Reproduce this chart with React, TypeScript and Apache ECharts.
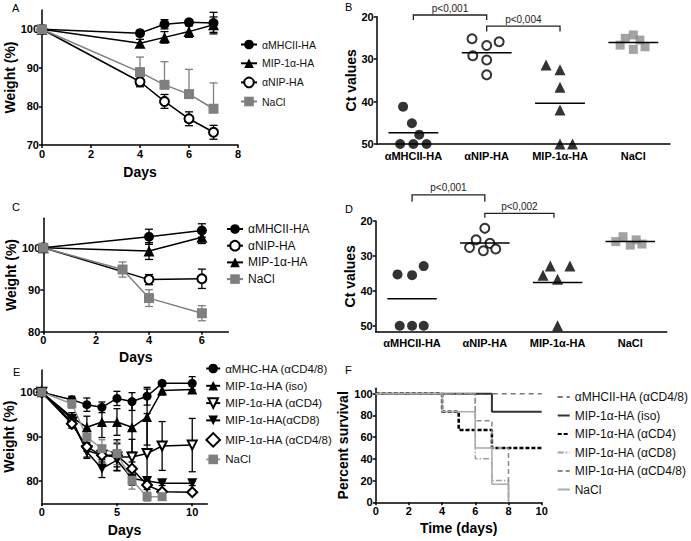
import React, { useEffect, useRef } from 'react';
import * as echarts from 'echarts';

const FONT = '"Liberation Sans", Arial, Helvetica, sans-serif';
const BLACK = '#000';
const GRAY = '#7f7f7f';

// ---------- Panel A ----------
const daysA = [0, 4, 5, 6, 7];
const mhcA = [100, 99.0, 101.3, 101.8, 101.6];
const mhcAErr = [0, 0.6, 1.2, 0.7, 2.8];
const mipA = [100, 96.4, 97.9, 99.4, 101.2];
const mipAErr = [0, 1.0, 1.5, 1.5, 2.0];
const nipA = [100, 86.4, 81.3, 76.8, 73.3];
const nipAErr = [0, 1.3, 1.8, 1.8, 1.8];
const naclA = [100, 88.9, 85.6, 83.2, 79.4];
const naclAErrUp = [0, 3.9, 6.0, 6.4, 6.7];

// ---------- Panel B ----------
const ctCats = ['αMHCII-HA', 'αNIP-HA', 'MIP-1α-HA', 'NaCl'];
const ctB_mhc = [41.2, 45.1, 47.8, 50, 50, 50];
const ctB_mhcJit = [-0.14, -0.02, 0.08, -0.18, 0, 0.18];
const ctB_nip = [25.2, 26.8, 25.9, 29.2, 30.2, 33.7];
const ctB_nipJit = [-0.2, 0, 0.17, -0.19, 0, 0];
const ctB_mip = [31.4, 32.5, 36.6, 42.0, 50, 50];
const ctB_mipJit = [-0.19, 0, 0, 0, 0, 0.17];
const ctB_nacl = [24.3, 25.1, 25.5, 26.7, 27.7, 27.1];
const ctB_naclJit = [0, -0.11, 0.09, -0.18, 0, 0.16];
const bracketsB = [[0, 1, 19.6, 20.8], [1, 2, 22.2, 23.5]];
const bracketsBText = ['p<0,001', 'p<0,004'];

// ---------- Panel C ----------
const daysC = [0, 4, 6];
const mhcC = [100, 102.6, 104.1];
const mhcCErr = [0, 1.8, 1.6];
const nipC = [100, 92.4, 92.6];
const nipCErr = [0, 1.2, 2.3];
const mipC = [100, 99.2, 102.5];
const mipCErr = [0, 2.0, 1.5];
const daysCNacl = [0, 3, 4, 6];
const naclC = [100, 94.8, 88.0, 84.4];
const naclCErr = [0, 1.8, 2.0, 1.8];

// ---------- Panel D ----------
const ctD_mhc = [35.3, 35.5, 32.9, 50, 50, 50];
const ctD_mhcJit = [-0.2, 0, 0.16, -0.17, 0, 0.16];
const ctD_nip = [22.1, 25.4, 26.4, 27.6, 28.5, 28.0];
const ctD_nipJit = [0, -0.12, 0.07, -0.21, -0.02, 0.15];
const ctD_mip = [32.9, 32.9, 35.5, 36.7, 50];
const ctD_mipJit = [-0.1, 0.17, -0.2, 0, 0];
const ctD_nacl = [25.9, 24.5, 26.9, 25.4, 26.6];
const ctD_naclJit = [-0.2, -0.1, 0, 0.08, 0.16];
const bracketsD = [[0, 1, 12.5, 14.5], [1, 1.95, 17.8, 19.1]];
const bracketsDText = ['p<0,001', 'p<0,002'];

// ---------- Panel E ----------
const daysE = [0, 2, 3, 4, 5, 6, 7, 8, 10];
const mhcE = [100, 98.3, 97.2, 96.6, 98.6, 97.9, 99.1, 102.0, 102.0];
const mhcEErr = [0, 0.8, 1.5, 1.2, 1.6, 2.0, 2.0, 0.5, 1.5];
const isoE = [100, 94.4, 92.1, 93.3, 93.3, 92.1, 94.4, 100.4, 100.6];
const isoEErr = [0, 1.0, 2.5, 3.5, 3.0, 5.6, 6.3, 1.0, 0.8];
const cd4E = [100, 93.3, 86.9, 85.8, 85.4, 85.4, 86.2, 87.9, 88.1];
const cd4EErr = [0, 1.0, 1.5, 2.0, 3.0, 4.0, 9.0, 5.5, 6.0];
const cd8E = [100, 94.0, 86.6, 82.8, 84.7, 80.6, 80.0, 79.5, 79.5];
const cd8EErr = [0, 1.0, 1.5, 2.0, 1.5, 1.5, 1.0, 0.5, 0.5];
const cd48E = [100, 92.9, 87.7, 85.8, 85.8, 82.8, 79.1, 77.6, 77.5];
const cd48EErr = [0, 1.0, 1.0, 1.5, 3.5, 1.5, 1.0, 0.5, 0.5];
const daysENacl = [0, 2, 3, 4, 5, 6, 7, 8];
const naclE = [100, 97.4, 89.9, 87.3, 86.2, 80.2, 76.5, 76.5];
const naclEErr = [0, 1.0, 2.0, 2.0, 2.5, 2.0, 1.0, 0.5];

// ---------- Panel F (survival) ----------
const survMhcT = [0, 10];
const survMhc = [100, 100];
const survIsoT = [0, 7, 10];
const survIso = [100, 83.3, 83.3];
const survCd4T = [0, 4, 5, 7, 10];
const survCd4 = [100, 83.3, 66.7, 50, 50];
const survCd8T = [0, 6, 7, 8];
const survCd8 = [100, 40, 20, 0];
const survCd48T = [0, 6, 7, 8];
const survCd48 = [100, 75, 50, 0];
const survNaclT = [0, 4, 6, 7, 8];
const survNacl = [100, 83.3, 50, 16.7, 0];

const strip = (s: string) => s.replace(/\u200b/g, '');
const pts = (xs: number[], ys: number[]) => xs.map((x, i) => [x, ys[i]]);
const errPts = (xs: number[], ys: number[], up: number[], down?: number[]) => {
  const out: number[][] = [];
  xs.forEach((x, i) => {
    const u = up[i];
    const d = down ? down[i] : up[i];
    if (u > 0 || d > 0) out.push([x, ys[i], u, d]);
  });
  return out;
};
const jit = (center: number, vals: number[], off: number[]) => vals.map((v, i) => [center + off[i], v]);
const mean = (a: number[]) => a.reduce((s, v) => s + v, 0) / a.length;

function lineS(name: string, idx: number, data: number[][], symbol: string, color: string, size = 10, rotate = 0, lineColor = color) {
  return {
    type: 'line', name, xAxisIndex: idx, yAxisIndex: idx, data,
    symbol, symbolSize: size, symbolRotate: rotate, showAllSymbol: true,
    itemStyle: { color },
    lineStyle: { color: lineColor, width: 1.5 },
    z: 4,
  };
}

function errS(idx: number, data: number[][], color: string, cap = 4) {
  return {
    type: 'custom', xAxisIndex: idx, yAxisIndex: idx, data, z: 3, silent: true, clip: false,
    encode: { x: 0, y: 1 },
    renderItem: (params: any, api: any) => {
      const x = api.value(0), y = api.value(1), u = api.value(2), d = api.value(3);
      const p = api.coord([x, y]);
      const t = api.coord([x, y + u]);
      const b = api.coord([x, y - d]);
      const style = { stroke: color, lineWidth: 1.3, fill: null };
      const ch: any[] = [{ type: 'line', shape: { x1: p[0], y1: t[1], x2: p[0], y2: b[1] }, style }];
      if (u > 0) ch.push({ type: 'line', shape: { x1: p[0] - cap, y1: t[1], x2: p[0] + cap, y2: t[1] }, style });
      if (d > 0) ch.push({ type: 'line', shape: { x1: p[0] - cap, y1: b[1], x2: p[0] + cap, y2: b[1] }, style });
      return { type: 'group', children: ch };
    },
  };
}

function meanS(idx: number, data: number[][]) {
  return {
    type: 'custom', xAxisIndex: idx, yAxisIndex: idx, data, z: 5, silent: true, clip: false,
    encode: { x: 0, y: 1 },
    renderItem: (params: any, api: any) => {
      const i = api.value(0), m = api.value(1);
      const a = api.coord([i - 0.34, m]);
      const b = api.coord([i + 0.34, m]);
      return { type: 'line', shape: { x1: a[0], y1: a[1], x2: b[0], y2: b[1] }, style: { stroke: '#000', lineWidth: 1.5 } };
    },
  };
}

function bracketS(idx: number, rows: number[][], labels: string[]) {
  return {
    type: 'custom', xAxisIndex: idx, yAxisIndex: idx, data: rows, z: 5, silent: true, clip: false,
    encode: { x: 0, y: 2 },
    renderItem: (params: any, api: any) => {
      const f = api.value(0), t = api.value(1), lv = api.value(2), te = api.value(3);
      const a = api.coord([f, te]);
      const b = api.coord([f, lv]);
      const c = api.coord([t, lv]);
      const d = api.coord([t, te]);
      return {
        type: 'group',
        children: [
          { type: 'polyline', shape: { points: [a, b, c, d] }, style: { stroke: '#222', lineWidth: 1.3, fill: null } },
          {
            type: 'text', x: (b[0] + c[0]) / 2, y: b[1] - 2,
            style: { text: labels[params.dataIndex], align: 'center', verticalAlign: 'bottom', fontSize: 10, fontFamily: FONT, fill: '#222' },
          },
        ],
      };
    },
  };
}

function scat(idx: number, data: number[][], symbol: string, color: string, size = 10) {
  return { type: 'scatter', xAxisIndex: idx, yAxisIndex: idx, data, symbol, symbolSize: size, itemStyle: { color, borderWidth: symbol.startsWith('empty') ? 1.5 : 0 }, z: 4 };
}

function survS(name: string, data: number[][], color: string, type: any, width: number) {
  return {
    type: 'line', name, xAxisIndex: 5, yAxisIndex: 5, data, step: 'end', symbol: 'none',
    itemStyle: { color }, lineStyle: { color, type, width }, z: 4,
  };
}

const axisBase = {
  axisLine: { onZero: false, lineStyle: { color: BLACK, width: 1.5 } },
  axisTick: { length: 3, lineStyle: { color: BLACK, width: 1.5 } },
  splitLine: { show: false },
  nameLocation: 'middle',
  nameTextStyle: { color: BLACK, fontFamily: FONT, fontWeight: 'bold', fontSize: 14 },
};
const lbl = (extra: any = {}) => ({ color: BLACK, fontFamily: FONT, fontWeight: 'bold', fontSize: 11, margin: 3, ...extra });

function valX(idx: number, min: number, max: number, ticks: number[], name: string, gap: number) {
  return {
    ...axisBase, type: 'value', gridIndex: idx, min, max, name, nameGap: gap,
    axisTick: { ...axisBase.axisTick, customValues: ticks },
    axisLabel: lbl({ customValues: ticks }),
  };
}
function valY(idx: number, min: number, max: number, ticks: number[], name: string, gap: number, inverse = false) {
  return {
    ...axisBase, type: 'value', gridIndex: idx, min, max, name, nameGap: gap, inverse,
    axisTick: { ...axisBase.axisTick, customValues: ticks },
    axisLabel: lbl({ customValues: ticks, margin: 3 }),
  };
}
function catX(idx: number) {
  return {
    ...axisBase, type: 'value', gridIndex: idx, min: -0.5, max: 3.5,
    axisTick: { show: false },
    axisLabel: lbl({ customValues: [0, 1, 2, 3], formatter: (v: number) => ctCats[Math.round(v)] ?? '', margin: 6 }),
  };
}

const legendBase = (left: number, top: number, gap: number, fontSize: number, itemWidth: number, itemHeight: number, data: any[]) => ({
  orient: 'vertical', left, top, itemGap: gap, itemWidth, itemHeight, selectedMode: false,
  textStyle: { fontFamily: FONT, fontSize, color: '#111' },
  formatter: strip, data,
});

// series names (zero-width suffixes keep panels independent)
const nA = ['αMHCII-HA', 'MIP-1α-HA', 'αNIP-HA', 'NaCl'];
const nC = ['αMHCII-HA\u200b', 'αNIP-HA\u200b', 'MIP-1α-HA\u200b', 'NaCl\u200b'];
const nE = ['αMHC-HA (αCD4/8)', 'MIP-1α-HA (iso)', 'MIP-1α-HA (αCD4)', 'MIP-1α-HA(αCD8)', 'MIP-1α-HA (αCD4/8)', 'NaCl\u200b\u200b'];
const nF = ['αMHCII-HA (αCD4/8)', 'MIP-1α-HA (iso)\u200b', 'MIP-1α-HA (αCD4)\u200b', 'MIP-1α-HA (αCD8)', 'MIP-1α-HA (αCD4/8)\u200b', 'NaCl\u200b\u200b\u200b'];

export default function App() {
  const ref = useRef<HTMLDivElement>(null);
  useEffect(() => {
    if (!ref.current) return;
    const chart = echarts.init(ref.current, null, { renderer: 'svg' });
    const option: any = {
      animation: false,
      backgroundColor: '#fff',
      grid: [
        { left: 42, top: 10, width: 196, height: 135 },
        { left: 376.7, top: 16.7, width: 293.3, height: 127.3 },
        { left: 43.3, top: 218.3, width: 185, height: 113.4 },
        { left: 375.7, top: 221, width: 291, height: 110.7 },
        { left: 41.7, top: 370, width: 165.6, height: 133.3 },
        { left: 375.7, top: 388.3, width: 166, height: 114 },
      ],
      xAxis: [
        valX(0, 0, 8, [0, 2, 4, 6, 8], 'Days', 20),
        catX(1),
        valX(2, 0, 7, [0, 2, 4, 6], 'Days', 18),
        catX(3),
        valX(4, 0, 11, [0, 5, 10], 'Days', 20),
        valX(5, 0, 10, [0, 2, 4, 6, 8, 10], 'Time (days)', 19),
      ],
      yAxis: [
        valY(0, 70, 105, [70, 80, 90, 100], 'Weight (%)', 22),
        valY(1, 20, 50, [20, 30, 40, 50], 'Ct values', 19, true),
        valY(2, 80, 107, [80, 90, 100], 'Weight (%)', 25),
        valY(3, 20, 51.7, [20, 30, 40, 50], 'Ct values', 19, true),
        valY(4, 75, 105, [80, 90, 100], 'Weight (%)', 24),
        valY(5, 0, 105, [0, 20, 40, 60, 80, 100], 'Percent survival', 19),
      ],
      legend: [
        legendBase(235, 34, 7.8, 10.5, 16, 12, nA),
        legendBase(221, 218, 4.7, 12, 16, 12, nC),
        legendBase(200, 357.5, 5.3, 11.5, 14, 12, nE),
        legendBase(551.7, 386, 6.5, 12, 12, 10, nF.map((n) => ({ name: n, itemStyle: { opacity: 0 } }))),
      ],
      graphic: [
        { type: 'text', left: 12, top: 2, style: { text: 'A', fontSize: 11, fontFamily: FONT, fill: '#000' } },
        { type: 'text', left: 345, top: 1, style: { text: 'B', fontSize: 11, fontFamily: FONT, fill: '#000' } },
        { type: 'text', left: 12, top: 201, style: { text: 'C', fontSize: 11, fontFamily: FONT, fill: '#000' } },
        { type: 'text', left: 345, top: 203, style: { text: 'D', fontSize: 11, fontFamily: FONT, fill: '#000' } },
        { type: 'text', left: 13, top: 366, style: { text: 'E', fontSize: 11, fontFamily: FONT, fill: '#000' } },
        { type: 'text', left: 345, top: 364, style: { text: 'F', fontSize: 11, fontFamily: FONT, fill: '#000' } },
      ],
      series: [
        // A
        errS(0, errPts(daysA, mhcA, mhcAErr), BLACK),
        errS(0, errPts(daysA, mipA, mipAErr), BLACK),
        errS(0, errPts(daysA, nipA, nipAErr), BLACK),
        errS(0, errPts(daysA, naclA, naclAErrUp, daysA.map(() => 0)), GRAY),
        lineS(nA[0], 0, pts(daysA, mhcA), 'circle', BLACK),
        lineS(nA[1], 0, pts(daysA, mipA), 'triangle', BLACK, 11),
        lineS(nA[2], 0, pts(daysA, nipA), 'emptyCircle', BLACK, 9),
        lineS(nA[3], 0, pts(daysA, naclA), 'rect', GRAY, 10),
        // B
        scat(1, jit(0, ctB_mhc, ctB_mhcJit), 'circle', BLACK),
        scat(1, jit(1, ctB_nip, ctB_nipJit), 'emptyCircle', BLACK, 9),
        scat(1, jit(2, ctB_mip, ctB_mipJit), 'triangle', BLACK, 11),
        scat(1, jit(3, ctB_nacl, ctB_naclJit), 'rect', '#8c8c8c', 9),
        meanS(1, [[0, mean(ctB_mhc)], [1, mean(ctB_nip)], [2, mean(ctB_mip)], [3, mean(ctB_nacl)]]),
        bracketS(1, bracketsB, bracketsBText),
        // C
        errS(2, errPts(daysC, mhcC, mhcCErr), BLACK),
        errS(2, errPts(daysC, nipC, nipCErr), BLACK),
        errS(2, errPts(daysC, mipC, mipCErr), BLACK),
        errS(2, errPts(daysCNacl, naclC, naclCErr), GRAY),
        lineS(nC[0], 2, pts(daysC, mhcC), 'circle', BLACK),
        lineS(nC[1], 2, pts(daysC, nipC), 'emptyCircle', BLACK, 9),
        lineS(nC[2], 2, pts(daysC, mipC), 'triangle', BLACK, 11),
        lineS(nC[3], 2, pts(daysCNacl, naclC), 'rect', GRAY, 10),
        // D
        scat(3, jit(0, ctD_mhc, ctD_mhcJit), 'circle', BLACK),
        scat(3, jit(1, ctD_nip, ctD_nipJit), 'emptyCircle', BLACK, 9),
        scat(3, jit(2, ctD_mip, ctD_mipJit), 'triangle', BLACK, 11),
        scat(3, jit(3, ctD_nacl, ctD_naclJit), 'rect', '#8c8c8c', 9),
        meanS(3, [[0, mean(ctD_mhc)], [1, mean(ctD_nip)], [2, mean(ctD_mip)], [3, mean(ctD_nacl)]]),
        bracketS(3, bracketsD, bracketsDText),
        // E
        errS(4, errPts(daysE, mhcE, mhcEErr), BLACK, 3.5),
        errS(4, errPts(daysE, isoE, isoEErr), BLACK, 3.5),
        errS(4, errPts(daysE, cd4E, cd4EErr), BLACK, 3.5),
        errS(4, errPts(daysE, cd8E, cd8EErr), BLACK, 3.5),
        errS(4, errPts(daysE, cd48E, cd48EErr), BLACK, 3.5),
        errS(4, errPts(daysENacl, naclE, naclEErr), GRAY, 3.5),
        lineS(nE[0], 4, pts(daysE, mhcE), 'circle', BLACK, 9),
        lineS(nE[1], 4, pts(daysE, isoE), 'triangle', BLACK, 10),
        lineS(nE[2], 4, pts(daysE, cd4E), 'emptyTriangle', BLACK, 9, 180),
        lineS(nE[3], 4, pts(daysE, cd8E), 'triangle', BLACK, 10, 180),
        lineS(nE[4], 4, pts(daysE, cd48E), 'emptyRect', BLACK, 7, 45),
        lineS(nE[5], 4, pts(daysENacl, naclE), 'rect', GRAY, 9, 0, '#999'),
        // F
        survS(nF[0], pts(survMhcT, survMhc), '#777', [5, 4], 1.5),
        survS(nF[1], pts(survIsoT, survIso), '#333', 'solid', 2),
        survS(nF[2], pts(survCd4T, survCd4), '#000', [4, 2], 2.5),
        survS(nF[3], pts(survCd8T, survCd8), '#a0a0a0', [6, 2, 1.5, 2], 1.5),
        survS(nF[4], pts(survCd48T, survCd48), '#8a8a8a', [5, 3], 1.5),
        survS(nF[5], pts(survNaclT, survNacl), '#ababab', 'solid', 1.5),
      ],
    };
    chart.setOption(option);
    return () => chart.dispose();
  }, []);
  return <div ref={ref} style={{ position: 'fixed', left: 0, top: 0, width: 691, height: 541, background: '#fff' }} />;
}
